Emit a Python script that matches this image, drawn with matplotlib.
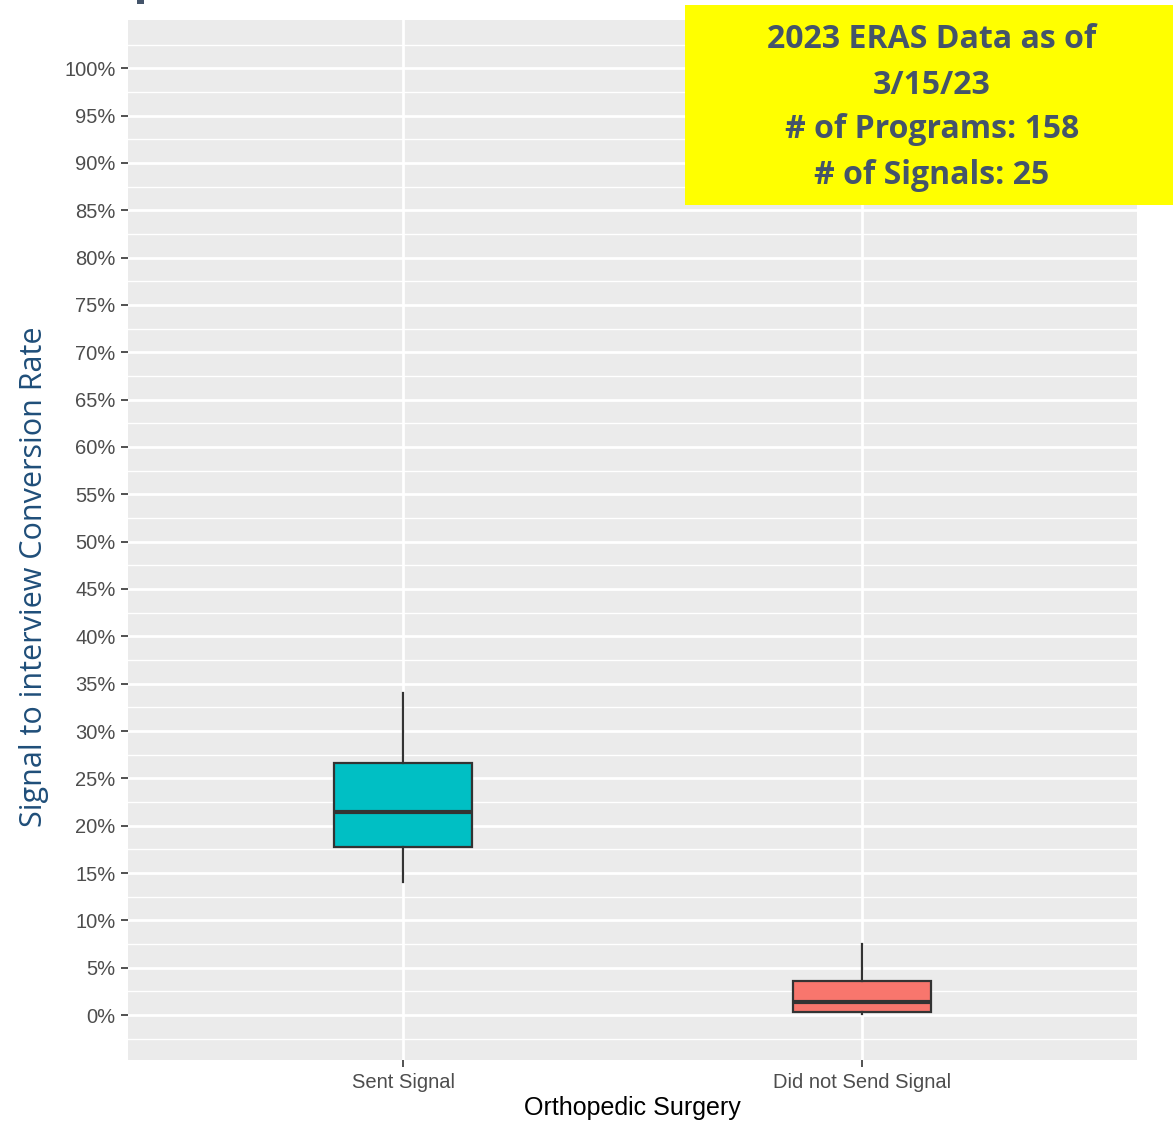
import matplotlib.pyplot as plt
import matplotlib as mpl
from matplotlib.patches import Rectangle
import numpy as np

mpl.use("Agg")

# box statistics (percent)
groups = ["Sent Signal", "Did not Send Signal"]
whisker_low = [14.0, 0.1]
q1 = [17.7, 0.3]
median = [21.4, 1.4]
q3 = [26.6, 3.6]
whisker_high = [34.0, 7.5]
box_colors = ["#00BFC4", "#F8766D"]

y_ticks = list(range(0, 101, 5))
y_labels = [f"{t}%" for t in y_ticks]

note_lines = ["2023 ERAS Data as of", "3/15/23",
              "# of Programs: 158", "# of Signals: 25"]


def main():
    fig = plt.figure(figsize=(11.73, 11.24), dpi=100)
    ax = fig.add_axes([128 / 1173, 1 - 1060 / 1124,
                       1009 / 1173, 1040 / 1124])
    ax.set_facecolor("#EBEBEB")

    stats = []
    for i, name in enumerate(groups):
        stats.append({
            "label": name,
            "whislo": whisker_low[i],
            "q1": q1[i],
            "med": median[i],
            "q3": q3[i],
            "whishi": whisker_high[i],
            "fliers": [],
        })
    positions = np.arange(1, len(groups) + 1)
    bp = ax.bxp(stats, positions=positions, widths=0.3, patch_artist=True,
                showcaps=False,
                boxprops=dict(edgecolor="#333333", linewidth=1.6),
                medianprops=dict(color="#333333", linewidth=3),
                whiskerprops=dict(color="#333333", linewidth=1.6),
                zorder=3)
    for patch, c in zip(bp["boxes"], box_colors):
        patch.set_facecolor(c)

    ax.set_xlim(0.4, 2.6)
    ax.set_ylim(-4.75, 105.1)
    ax.set_xticks(positions)
    ax.set_xticklabels(groups)
    ax.set_yticks(y_ticks)
    ax.set_yticklabels(y_labels)
    ax.set_yticks(np.arange(-2.5, 105, 5), minor=True)

    ax.grid(True, which="major", color="white", linewidth=2, zorder=0)
    ax.grid(True, which="minor", axis="y", color="white", linewidth=1,
            zorder=0)
    ax.set_axisbelow(True)
    for s in ax.spines.values():
        s.set_visible(False)

    ax.tick_params(axis="both", which="major", colors="#333333", length=5,
                   width=1.2, labelsize=14.5, labelcolor="#4D4D4D", pad=4)
    ax.tick_params(axis="both", which="minor", length=0)
    for lab in ax.get_xticklabels() + ax.get_yticklabels():
        lab.set_family("Liberation Sans")

    ax.set_xlabel("Orthopedic Surgery", family="Liberation Sans",
                  fontsize=18, color="black", labelpad=3)
    fig.text(34 / 1173, 1 - 577 / 1124, "Signal to interview Conversion Rate",
             rotation=90, ha="center", va="center", fontsize=22,
             color="#1F4E79", family="Open Sans")

    # yellow note box
    fig.patches.append(Rectangle((685 / 1173, 1 - 205 / 1124),
                                 488 / 1173, 200 / 1124,
                                 transform=fig.transFigure,
                                 facecolor="#FFFF00", edgecolor="none",
                                 zorder=5))
    ys = [40, 85, 130, 175]
    for line, yy in zip(note_lines, ys):
        fig.text(932 / 1173, 1 - yy / 1124, line, ha="center", va="center",
                 fontsize=23, fontweight="bold", color="#44546A",
                 family="Open Sans", zorder=6)

    # cut-off mark of slide title at top
    fig.patches.append(Rectangle((137 / 1173, 1 - 4 / 1124),
                                 7 / 1173, 4 / 1124,
                                 transform=fig.transFigure,
                                 facecolor="#44546A", edgecolor="none"))

    plt.savefig("out.png", dpi=100)


if __name__ == "__main__":
    main()
